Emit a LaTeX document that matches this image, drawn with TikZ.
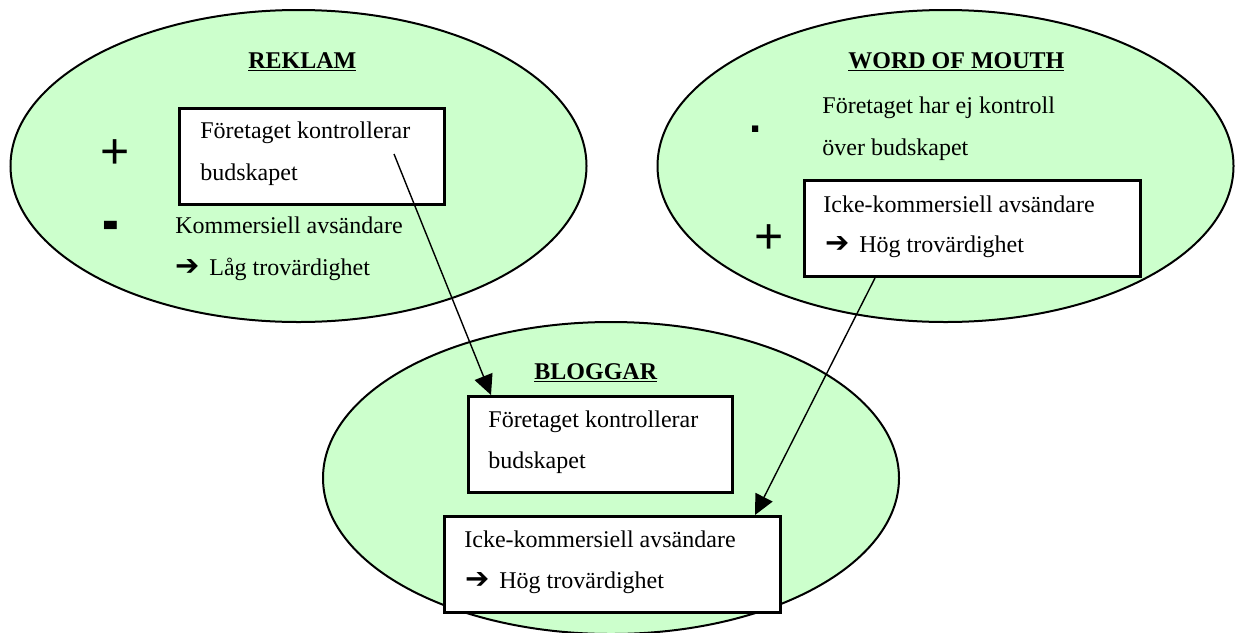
\documentclass[tikz,border=0pt]{standalone}
\usepackage{fontspec}
\usepackage{graphicx}
\setmainfont{Liberation Serif}
\newfontfamily\symfont{DejaVu Sans}
\newfontfamily\signfont{Liberation Sans}
\usetikzlibrary{arrows.meta,shapes.geometric}
\definecolor{bubblegreen}{HTML}{CCFFCC}
\newcommand\titleul[1]{\setbox0\hbox{\bfseries #1}\rlap{\copy0}\rule[-1.7pt]{\wd0}{0.9pt}}
\newcommand\arrline[1]{\makebox[17pt][l]{\symfont\fontsize{14.5}{16}\selectfont ➔}#1}
\begin{document}
\begin{tikzpicture}[x=0.5pt,y=-0.5pt,
  bubble/.style={ellipse, draw, line width=1pt, fill=bubblegreen,
    minimum width=288pt, minimum height=156pt, inner sep=0pt},
  msgbox/.style={rectangle, draw, line width=1.5pt, fill=white, anchor=north west,
    inner sep=0pt, minimum height=48pt},
  txt/.style={anchor=base west, inner sep=0pt, font=\fontsize{12}{14}\selectfont},
  ttl/.style={anchor=base west, inner sep=0pt, font=\fontsize{12}{14}\selectfont},
  plussign/.style={anchor=base west, inner sep=0pt, font=\signfont\fontsize{25}{28}\selectfont},
  minussign/.style={anchor=base west, inner sep=0pt, font=\signfont\bfseries\fontsize{24}{28}\selectfont},
  dotsign/.style={anchor=base west, inner sep=0pt, font=\signfont\bfseries\fontsize{22}{26}\selectfont},
  link/.style={line width=0.7pt, -{Triangle[length=10pt,width=9.5pt]}}
]
\useasboundingbox (0,0) rectangle (1235,632);

% ellipses
\node[bubble] (reklam) at (298.5,166) {};
\node[bubble] (wom) at (945.5,166) {};
\node[bubble] (blogg) at (611,478) {};

% REKLAM
\node[ttl] (tR) at (248,68) {\titleul{REKLAM}};
\node[plussign] (pR) at (100.5,168) {+};
\node[minussign] (mR) at (102,243) {\scalebox{1.05}[1.45]{-}};
\node[msgbox, minimum width=132.5pt] (bR) at (178,107) {};
\node[txt] (bR1) at (200,138) {Företaget kontrollerar};
\node[txt] (bR2) at (200,180) {budskapet};
\node[txt] (kR1) at (175,233) {Kommersiell avsändare};
\node[txt] (kR2) at (175,275) {\arrline{Låg trovärdighet}};

% WORD OF MOUTH
\node[ttl] (tW) at (848,68) {\titleul{WORD OF MOUTH}};
\node[dotsign] (dW) at (749,132) {.};
\node[txt] (fW1) at (822,113) {Företaget har ej kontroll};
\node[txt] (fW2) at (822,155) {över budskapet};
\node[msgbox, minimum width=168pt] (bW) at (803,179) {};
\node[txt] (bW1) at (823,212) {Icke-kommersiell avsändare};
\node[txt] (bW2) at (825,252) {\arrline{Hög trovärdighet}};
\node[plussign] (pW) at (754.5,253) {+};

% BLOGGAR
\node[ttl] (tB) at (534,379) {\titleul{BLOGGAR}};
\node[msgbox, minimum width=132pt] (bB1) at (467,395) {};
\node[txt] (bB11) at (488,427) {Företaget kontrollerar};
\node[txt] (bB12) at (488,468) {budskapet};
\node[msgbox, minimum width=168pt] (bB2) at (443,515) {};
\node[txt] (bB21) at (464,547) {Icke-kommersiell avsändare};
\node[txt] (bB22) at (465,588) {\arrline{Hög trovärdighet}};

% connectors
\coordinate (a1start) at (394,154);
\draw[link] (a1start) -- ([xshift=12pt]bB1.north west);
\draw[link] ([xshift=36pt]bW.south west) -- ([xshift=156pt]bB2.north west);
\end{tikzpicture}
\end{document}
